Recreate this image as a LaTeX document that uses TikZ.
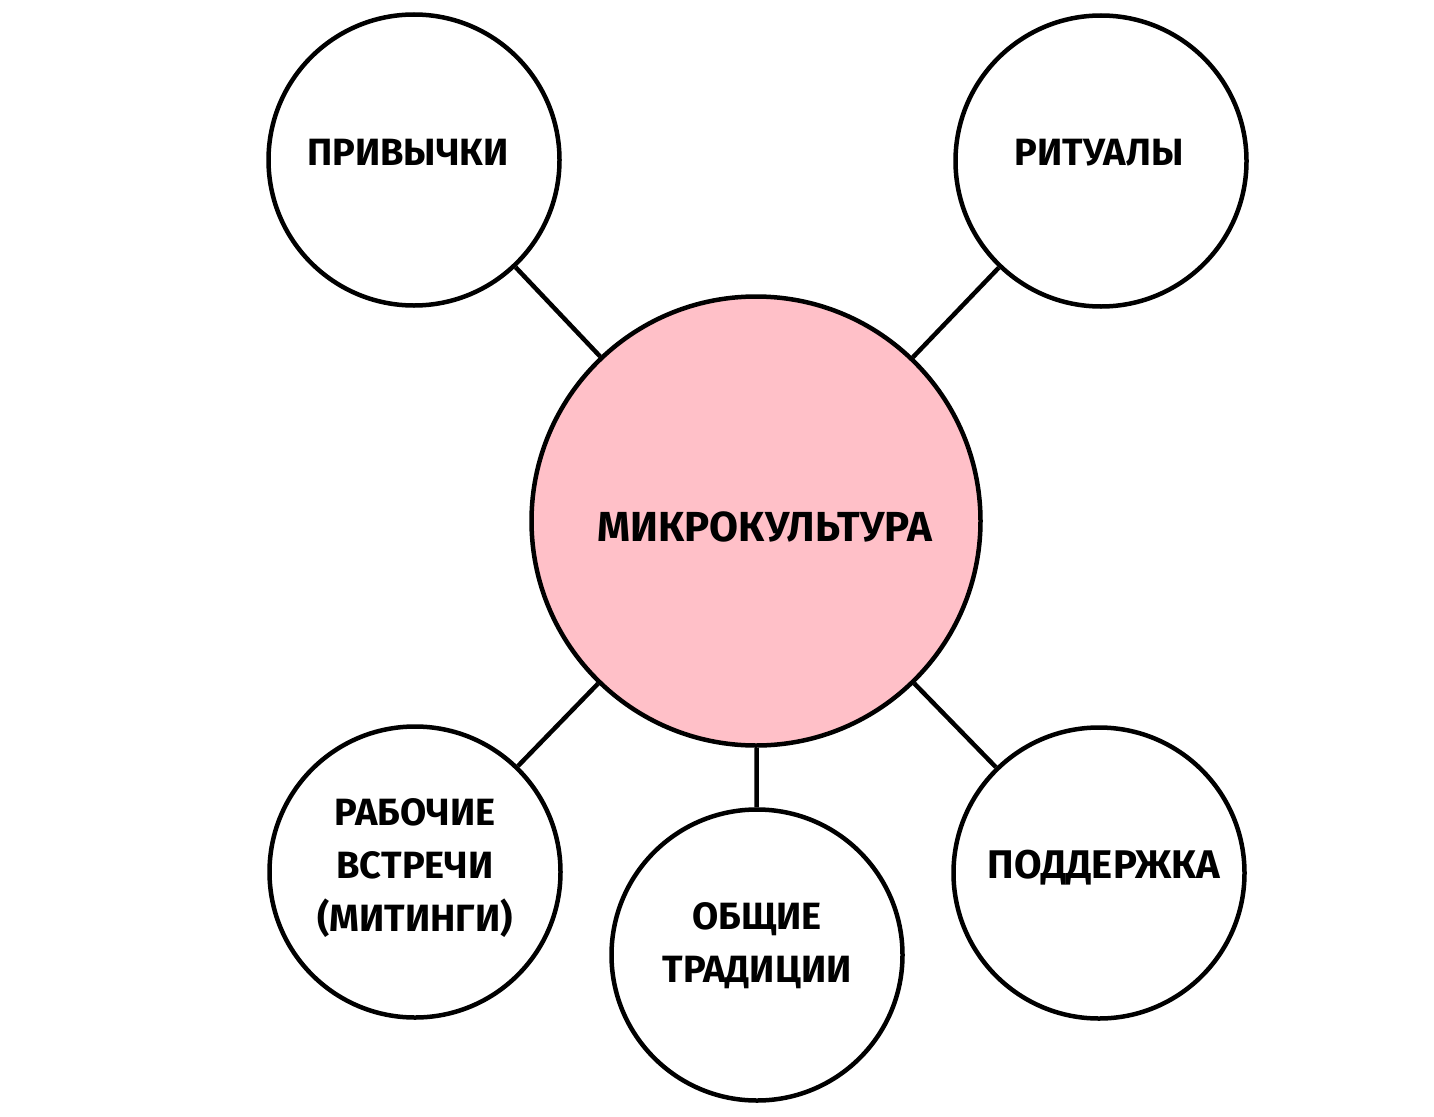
\documentclass[tikz,border=0pt]{standalone}
\usepackage{fontspec}
\setmainfont{Fira Sans}
\definecolor{pinkfill}{RGB}{255,192,200}
\begin{document}
\begin{tikzpicture}[x=1pt,y=-1pt,
  circ/.style={circle, draw=black, line width=4.5pt, fill=white, inner sep=0pt, minimum size=291pt},
  bigcirc/.style={circle, draw=black, line width=4.5pt, fill=pinkfill, inner sep=0pt, minimum size=449pt},
  lbl/.style={font=\bfseries\fontsize{38}{53}\selectfont, align=center, inner sep=0pt, anchor=center},
  biglbl/.style={font=\bfseries\fontsize{42}{50}\selectfont, align=center, inner sep=0pt},
  conn/.style={line width=4.5pt}]
\useasboundingbox (0,0) rectangle (1434,1116);
\fill[white] (0,0) rectangle (1434,1116);
\node[bigcirc] (c) at (756,521) {};
\node[circ] (tl) at (414,160) {};
\node[circ] (tr) at (1101,161) {};
\node[circ] (bl) at (415,872) {};
\node[circ] (bm) at (757,955) {};
\node[circ] (br) at (1099,873) {};
\draw[conn] (tl) -- (c);
\draw[conn] (tr) -- (c);
\draw[conn] (bl) -- (c);
\draw[conn] (bm) -- (c);
\draw[conn] (br) -- (c);
\node[lbl] (ttl) at (408,152) {ПРИВЫЧКИ};
\node[lbl] (ttr) at (1099,153) {РИТУАЛЫ};
\node[biglbl] (tc) at (765,527) {МИКРОКУЛЬТУРА};
\node[lbl] (tbl) at (415,868) {РАБОЧИЕ\\ВСТРЕЧИ\\(МИТИНГИ)};
\node[lbl] (tbm) at (757,946) {ОБЩИЕ\\ТРАДИЦИИ};
\node[lbl, font=\bfseries\fontsize{40}{53}\selectfont] (tbr) at (1104,868) {ПОДДЕРЖКА};
\end{tikzpicture}
\end{document}
